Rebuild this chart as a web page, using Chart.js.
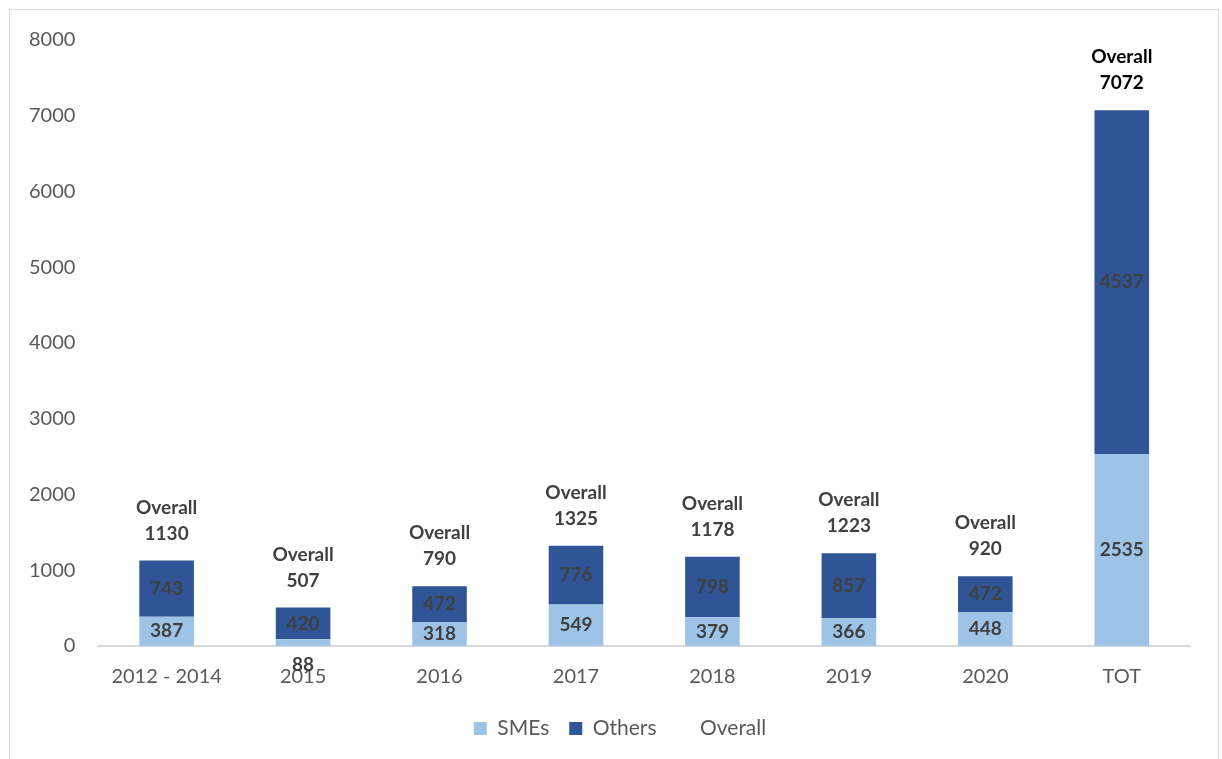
<!DOCTYPE html>
<html>
<head>
<meta charset="utf-8">
<script src="https://cdn.jsdelivr.net/npm/chart.js@4/dist/chart.umd.min.js"></script>
<style>
  body { margin: 0; background: #fff; }
  #frame { position: absolute; left: 9px; top: 9px; width: 1208px; height: 770px; border: 1px solid #d9d9d9; }
  #wrap { position: absolute; left: 0; top: 0; width: 1222px; height: 759px; }
</style>
</head>
<body>
<div id="frame"></div>
<div id="wrap"><canvas id="chart" width="1222" height="759"></canvas></div>
<script>
// categorie e valori
const categories = ["2012 - 2014", "2015", "2016", "2017", "2018", "2019", "2020", "TOT"];
const smes = [387, 88, 318, 549, 379, 366, 448, 2535];
const others = [743, 420, 472, 776, 798, 857, 472, 4537];
const overall = [1130, 507, 790, 1325, 1178, 1223, 920, 7072];

const FONT = "Lato, 'Liberation Sans', sans-serif";

// etichette sui segmenti e sopra le barre
const labelPlugin = {
  id: "labels",
  afterDatasetsDraw(chart) {
    const ctx = chart.ctx;
    ctx.save();
    ctx.textAlign = "center";
    ctx.textBaseline = "middle";
    ctx.font = "bold 19px " + FONT;
    [0, 1].forEach(di => {
      const meta = chart.getDatasetMeta(di);
      meta.data.forEach((bar, i) => {
        const v = chart.data.datasets[di].data[i];
        const h = Math.abs(bar.base - bar.y);
        let y = (bar.y + bar.base) / 2;
        if (h < 16) y = bar.base + 19;
        ctx.fillStyle = "#404040";
        ctx.fillText(v, bar.x, y);
      });
    });
    const meta = chart.getDatasetMeta(2);
    ctx.font = "bold 19px " + FONT;
    meta.data.forEach((pt, i) => {
      ctx.fillStyle = i === categories.length - 1 ? "#000000" : "#404040";
      ctx.fillText("Overall", pt.x, pt.y - 53);
      ctx.fillText(overall[i], pt.x, pt.y - 27);
    });
    ctx.restore();
  }
};

// sposta un po' la legenda verso destra
const legendShift = {
  id: "legendShift",
  afterLayout(chart) {
    chart.legend.left += 22;
    chart.legend.right += 22;
  }
};

const ctx = document.getElementById("chart").getContext("2d");
new Chart(ctx, {
  type: "bar",
  data: {
    labels: categories,
    datasets: [
      {
        label: "SMEs",
        data: smes,
        backgroundColor: "#9dc3e6",
        barPercentage: 0.4,
        categoryPercentage: 1
      },
      {
        label: "Others",
        data: others,
        backgroundColor: "#2f5597",
        barPercentage: 0.4,
        categoryPercentage: 1
      },
      {
        type: "line",
        label: "Overall",
        data: overall,
        stack: "total",
        showLine: false,
        pointRadius: 0,
        borderColor: "transparent",
        backgroundColor: "transparent",
        borderWidth: 0
      }
    ]
  },
  options: {
    responsive: false,
    animation: false,
    layout: { padding: { left: 6, right: 32, top: 40, bottom: 10 } },
    plugins: {
      legend: {
        position: "bottom",
        labels: {
          color: "#595959",
          font: { family: FONT, size: 21 },
          boxWidth: 13,
          boxHeight: 13,
          padding: 20
        }
      },
      tooltip: { enabled: false }
    },
    scales: {
      x: {
        stacked: true,
        grid: { display: false, drawTicks: false },
        border: { display: true, color: "#d9d9d9", width: 2 },
        ticks: { color: "#595959", font: { family: FONT, size: 20 }, padding: 19 },
        afterFit(scale) { scale.height -= 10; }
      },
      y: {
        stacked: true,
        min: 0,
        max: 8000,
        grid: { display: false, drawTicks: false },
        border: { display: false },
        ticks: {
          stepSize: 1000,
          color: "#595959",
          font: { family: FONT, size: 20 },
          padding: 23,
          callback: v => String(v)
        }
      }
    }
  },
  plugins: [labelPlugin, legendShift]
});
</script>
</body>
</html>
